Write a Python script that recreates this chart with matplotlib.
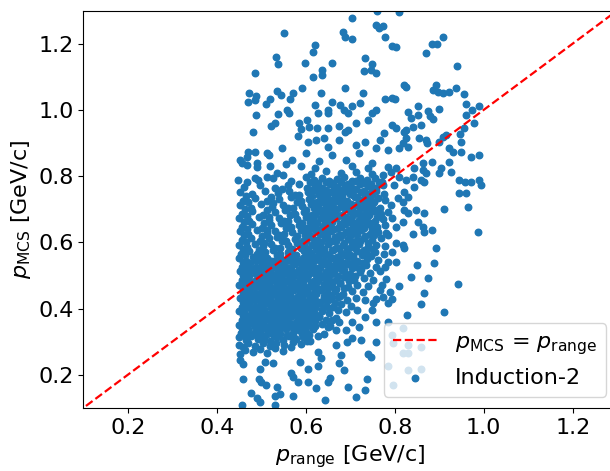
import numpy as np
import matplotlib
matplotlib.use("Agg")
import matplotlib.pyplot as plt

# (p_range, p_MCS) pairs in GeV/c, grouped by region of the distribution
dense_core = [
    # p_MCS ~ 0.27
    (0.452,0.262),(0.463,0.275),(0.481,0.268),(0.497,0.279),(0.512,0.266),(0.531,0.281),(0.548,0.271),(0.566,0.283),
    # ~0.29
    (0.449,0.291),(0.458,0.284),(0.471,0.296),(0.486,0.288),(0.503,0.295),(0.519,0.287),(0.534,0.297),(0.552,0.290),
    (0.571,0.298),(0.589,0.294),(0.604,0.301),
    # ~0.31
    (0.451,0.314),(0.465,0.304),(0.478,0.317),(0.492,0.308),(0.507,0.311),(0.520,0.302),(0.536,0.315),(0.549,0.306),
    (0.563,0.318),(0.578,0.309),(0.594,0.313),(0.610,0.303),(0.628,0.316),
    # ~0.33
    (0.455,0.327),(0.469,0.336),(0.484,0.325),(0.497,0.333),(0.512,0.338),(0.527,0.324),(0.541,0.331),(0.555,0.337),
    (0.571,0.326),(0.585,0.334),(0.600,0.329),(0.617,0.338),(0.641,0.323),
    # ~0.35
    (0.450,0.352),(0.462,0.345),(0.476,0.356),(0.490,0.348),(0.505,0.353),(0.519,0.343),(0.533,0.357),(0.547,0.349),
    (0.561,0.354),(0.576,0.344),(0.591,0.351),(0.606,0.358),(0.622,0.346),(0.637,0.353),(0.655,0.347),
    # ~0.37
    (0.456,0.366),(0.470,0.374),(0.483,0.365),(0.498,0.377),(0.513,0.369),(0.526,0.375),(0.540,0.364),(0.555,0.372),
    (0.569,0.378),(0.583,0.366),(0.598,0.373),(0.614,0.368),(0.629,0.376),(0.646,0.365),(0.668,0.371),
    # ~0.39
    (0.451,0.392),(0.464,0.385),(0.479,0.396),(0.493,0.388),(0.506,0.394),(0.521,0.384),(0.535,0.391),(0.549,0.397),
    (0.563,0.386),(0.577,0.393),(0.592,0.389),(0.607,0.395),(0.621,0.383),(0.637,0.392),(0.653,0.387),(0.672,0.396),
    (0.690,0.389),
    # ~0.41
    (0.457,0.406),(0.471,0.414),(0.485,0.404),(0.500,0.412),(0.514,0.417),(0.528,0.405),(0.542,0.411),(0.557,0.403),
    (0.571,0.415),(0.586,0.408),(0.600,0.413),(0.615,0.404),(0.630,0.416),(0.645,0.409),(0.661,0.405),(0.680,0.414),
    (0.701,0.408),
    # ~0.43
    (0.452,0.433),(0.466,0.425),(0.480,0.436),(0.494,0.428),(0.508,0.434),(0.523,0.424),(0.537,0.431),(0.551,0.437),
    (0.565,0.426),(0.580,0.432),(0.595,0.427),(0.609,0.435),(0.624,0.424),(0.640,0.433),(0.656,0.429),(0.673,0.436),
    (0.692,0.426),(0.714,0.431),
    # ~0.45
    (0.458,0.446),(0.472,0.454),(0.487,0.445),(0.501,0.452),(0.515,0.457),(0.530,0.444),(0.544,0.451),(0.558,0.446),
    (0.573,0.455),(0.587,0.448),(0.602,0.453),(0.617,0.444),(0.633,0.456),(0.648,0.447),(0.665,0.452),(0.683,0.445),
    (0.704,0.454),(0.728,0.449),
    # ~0.47
    (0.451,0.472),(0.465,0.465),(0.479,0.476),(0.494,0.468),(0.508,0.474),(0.522,0.464),(0.537,0.471),(0.551,0.477),
    (0.566,0.466),(0.580,0.473),(0.596,0.468),(0.611,0.475),(0.626,0.463),(0.642,0.472),(0.658,0.467),(0.676,0.476),
    (0.695,0.465),(0.716,0.471),(0.741,0.468),
    # ~0.49
    (0.456,0.486),(0.470,0.494),(0.485,0.484),(0.499,0.492),(0.513,0.497),(0.528,0.485),(0.543,0.491),(0.557,0.483),
    (0.572,0.495),(0.588,0.488),(0.603,0.493),(0.619,0.484),(0.635,0.496),(0.651,0.489),(0.668,0.485),(0.687,0.494),
    (0.708,0.487),(0.731,0.492),(0.752,0.486),
    # ~0.51
    (0.452,0.513),(0.466,0.505),(0.480,0.516),(0.495,0.508),(0.509,0.514),(0.524,0.504),(0.538,0.511),(0.553,0.517),
    (0.568,0.506),(0.583,0.513),(0.598,0.508),(0.614,0.515),(0.630,0.503),(0.646,0.512),(0.663,0.507),(0.681,0.516),
    (0.700,0.505),(0.722,0.511),(0.745,0.507),(0.766,0.514),
    # ~0.53
    (0.457,0.526),(0.471,0.534),(0.486,0.524),(0.501,0.532),(0.516,0.537),(0.531,0.525),(0.546,0.531),(0.561,0.523),
    (0.576,0.535),(0.592,0.528),(0.607,0.533),(0.623,0.524),(0.640,0.536),(0.657,0.529),(0.675,0.525),(0.694,0.534),
    (0.714,0.527),(0.736,0.532),(0.758,0.526),
    # ~0.55
    (0.451,0.553),(0.466,0.545),(0.481,0.556),(0.497,0.548),(0.513,0.554),(0.529,0.544),(0.545,0.551),(0.561,0.557),
    (0.577,0.546),(0.593,0.553),(0.609,0.548),(0.625,0.555),(0.641,0.543),(0.658,0.552),(0.676,0.547),(0.695,0.556),
    (0.716,0.545),(0.738,0.551),(0.762,0.548),
    # ~0.57
    (0.455,0.566),(0.472,0.574),(0.490,0.564),(0.508,0.572),(0.526,0.577),(0.543,0.565),(0.561,0.571),(0.578,0.563),
    (0.596,0.575),(0.612,0.568),(0.628,0.573),(0.645,0.564),(0.661,0.576),(0.679,0.569),(0.697,0.565),(0.716,0.574),
    (0.735,0.567),(0.755,0.572),(0.775,0.566),
    # ~0.59
    (0.450,0.593),(0.468,0.585),(0.486,0.596),(0.505,0.588),(0.523,0.594),(0.542,0.584),(0.560,0.591),(0.580,0.597),
    (0.598,0.586),(0.615,0.593),(0.632,0.588),(0.649,0.595),(0.667,0.583),(0.684,0.592),(0.702,0.587),(0.720,0.596),
    (0.739,0.585),(0.759,0.591),(0.779,0.588),
    # ~0.61
    (0.456,0.606),(0.476,0.614),(0.497,0.604),(0.517,0.612),(0.536,0.617),(0.556,0.605),(0.575,0.611),(0.593,0.603),
    (0.610,0.615),(0.626,0.608),(0.643,0.613),(0.660,0.604),(0.677,0.616),(0.694,0.609),(0.712,0.605),(0.731,0.614),
    (0.750,0.607),(0.770,0.612),
    # ~0.63
    (0.452,0.633),(0.471,0.625),(0.491,0.636),(0.512,0.628),(0.532,0.634),(0.551,0.624),(0.570,0.631),(0.589,0.637),
    (0.607,0.626),(0.623,0.633),(0.640,0.628),(0.657,0.635),(0.674,0.623),(0.690,0.632),(0.707,0.627),(0.725,0.636),
    (0.744,0.625),(0.763,0.631),(0.781,0.628),
    # ~0.65
    (0.457,0.646),(0.479,0.654),(0.501,0.644),(0.523,0.652),(0.545,0.657),(0.566,0.645),(0.586,0.651),(0.604,0.643),
    (0.621,0.655),(0.638,0.648),(0.655,0.653),(0.672,0.644),(0.689,0.656),(0.706,0.649),(0.723,0.645),(0.741,0.654),
    (0.760,0.647),(0.778,0.652),
    # ~0.67
    (0.451,0.673),(0.472,0.665),(0.495,0.676),(0.518,0.668),(0.540,0.674),(0.561,0.664),(0.581,0.671),(0.600,0.677),
    (0.618,0.666),(0.635,0.673),(0.651,0.668),(0.668,0.675),(0.685,0.663),(0.702,0.672),(0.719,0.667),(0.737,0.676),
    (0.755,0.665),(0.773,0.671),
    # ~0.69
    (0.456,0.686),(0.480,0.694),(0.505,0.684),(0.530,0.692),(0.553,0.697),(0.575,0.685),(0.596,0.691),(0.614,0.683),
    (0.631,0.695),(0.648,0.688),(0.665,0.693),(0.682,0.684),(0.699,0.696),(0.716,0.689),(0.733,0.685),(0.751,0.694),
    (0.769,0.687),(0.785,0.692),
    # ~0.71
    (0.452,0.713),(0.476,0.705),(0.500,0.716),(0.525,0.708),(0.549,0.714),(0.571,0.704),(0.592,0.711),(0.611,0.717),
    (0.628,0.706),(0.645,0.713),(0.662,0.708),(0.679,0.715),(0.696,0.703),(0.713,0.712),(0.730,0.707),(0.748,0.716),
    (0.766,0.705),
    # ~0.73
    (0.458,0.726),(0.486,0.734),(0.514,0.724),(0.541,0.732),(0.566,0.737),(0.589,0.725),(0.608,0.731),(0.625,0.723),
    (0.642,0.735),(0.659,0.728),(0.676,0.733),(0.693,0.724),(0.710,0.736),(0.727,0.729),(0.744,0.725),(0.762,0.734),
    (0.779,0.727),
    # ~0.75
    (0.453,0.753),(0.480,0.745),(0.509,0.756),(0.537,0.748),(0.563,0.754),(0.585,0.744),(0.605,0.751),(0.622,0.757),
    (0.639,0.746),(0.656,0.753),(0.673,0.748),(0.690,0.755),(0.707,0.743),(0.724,0.752),(0.741,0.747),(0.759,0.756),
    (0.776,0.745),
    # ~0.77
    (0.461,0.766),(0.497,0.774),(0.531,0.764),(0.560,0.772),(0.584,0.777),(0.603,0.765),(0.620,0.771),(0.637,0.763),
    (0.654,0.775),(0.671,0.768),(0.688,0.773),(0.705,0.764),(0.722,0.776),(0.739,0.769),(0.757,0.765),(0.774,0.774),
    # ~0.79
    (0.527,0.793),(0.566,0.785),(0.601,0.796),(0.619,0.788),(0.636,0.794),(0.653,0.784),(0.670,0.791),(0.687,0.797),
    (0.704,0.786),(0.721,0.793),(0.738,0.788),(0.755,0.795),(0.772,0.783),
    # ~0.81
    (0.612,0.806),(0.645,0.814),(0.680,0.808),(0.713,0.812),(0.748,0.805),
]

# additional events filling the most populated part of the band
dense_fill = [
    (0.458,0.321),(0.472,0.318),(0.486,0.323),(0.500,0.319),(0.514,0.322),(0.529,0.317),(0.543,0.324),(0.557,0.320),
    (0.571,0.316),(0.592,0.322),(0.608,0.319),
    (0.457,0.341),(0.471,0.338),(0.485,0.343),(0.499,0.339),(0.513,0.344),(0.527,0.337),(0.541,0.342),(0.555,0.340),
    (0.569,0.345),(0.584,0.338),(0.599,0.341),(0.614,0.343),
    (0.463,0.361),(0.477,0.358),(0.491,0.363),(0.505,0.359),(0.519,0.362),(0.533,0.357),(0.547,0.364),(0.562,0.360),
    (0.576,0.356),(0.591,0.362),(0.606,0.359),(0.621,0.363),
    (0.458,0.381),(0.472,0.378),(0.486,0.383),(0.500,0.379),(0.514,0.384),(0.528,0.377),(0.542,0.382),(0.556,0.380),
    (0.570,0.385),(0.585,0.378),(0.600,0.381),(0.615,0.383),(0.630,0.379),
    (0.464,0.401),(0.478,0.398),(0.492,0.403),(0.507,0.399),(0.521,0.402),(0.535,0.397),(0.549,0.404),(0.564,0.400),
    (0.578,0.396),(0.593,0.402),(0.607,0.399),(0.622,0.403),(0.637,0.398),(0.653,0.401),
    (0.459,0.421),(0.473,0.418),(0.487,0.423),(0.501,0.419),(0.515,0.424),(0.530,0.417),(0.544,0.422),(0.558,0.420),
    (0.572,0.425),(0.587,0.418),(0.602,0.421),(0.617,0.423),(0.632,0.419),(0.648,0.422),(0.665,0.418),
    (0.465,0.441),(0.479,0.438),(0.493,0.443),(0.507,0.439),(0.522,0.442),(0.536,0.437),(0.551,0.444),(0.565,0.440),
    (0.580,0.436),(0.594,0.442),(0.609,0.439),(0.624,0.443),(0.640,0.438),(0.657,0.441),(0.676,0.437),
    (0.458,0.461),(0.472,0.458),(0.486,0.463),(0.501,0.459),(0.515,0.464),(0.529,0.457),(0.544,0.462),(0.558,0.460),
    (0.573,0.465),(0.588,0.458),(0.603,0.461),(0.618,0.463),(0.634,0.459),(0.650,0.462),(0.667,0.458),(0.686,0.461),
    (0.463,0.481),(0.477,0.478),(0.492,0.483),(0.506,0.479),(0.520,0.482),(0.535,0.477),(0.550,0.484),(0.564,0.480),
    (0.579,0.476),(0.595,0.482),(0.611,0.479),(0.627,0.483),(0.643,0.478),(0.660,0.481),(0.678,0.477),(0.698,0.482),
    (0.459,0.501),(0.473,0.498),(0.488,0.503),(0.502,0.499),(0.516,0.504),(0.531,0.497),(0.546,0.502),(0.561,0.500),
    (0.576,0.505),(0.591,0.498),(0.606,0.501),(0.622,0.503),(0.638,0.499),(0.655,0.502),(0.672,0.498),(0.691,0.501),
    (0.711,0.497),
    (0.464,0.521),(0.478,0.518),(0.493,0.523),(0.508,0.519),(0.523,0.522),(0.538,0.517),(0.553,0.524),(0.568,0.520),
    (0.584,0.516),(0.600,0.522),(0.616,0.519),(0.632,0.523),(0.649,0.518),(0.666,0.521),(0.685,0.517),(0.704,0.522),
    (0.725,0.519),
    (0.459,0.541),(0.474,0.538),(0.489,0.543),(0.505,0.539),(0.521,0.544),(0.537,0.537),(0.553,0.542),(0.569,0.540),
    (0.585,0.545),(0.601,0.538),(0.617,0.541),(0.633,0.543),(0.650,0.539),(0.667,0.542),(0.686,0.538),(0.706,0.541),
    (0.727,0.537),
    (0.464,0.561),(0.499,0.558),(0.535,0.563),(0.570,0.559),(0.604,0.562),(0.620,0.557),(0.637,0.564),(0.653,0.560),
    (0.670,0.556),(0.688,0.562),(0.706,0.559),(0.726,0.563),(0.746,0.558),
    (0.459,0.581),(0.495,0.578),(0.532,0.583),(0.569,0.579),(0.589,0.582),(0.606,0.577),(0.623,0.584),(0.640,0.580),
    (0.658,0.576),(0.675,0.582),(0.693,0.579),(0.711,0.583),(0.730,0.578),(0.749,0.581),
    (0.466,0.601),(0.507,0.598),(0.546,0.603),(0.584,0.599),(0.601,0.604),(0.618,0.597),(0.635,0.602),(0.652,0.600),
    (0.669,0.605),(0.686,0.598),(0.703,0.601),(0.721,0.603),(0.740,0.599),
    (0.461,0.621),(0.501,0.618),(0.541,0.623),(0.580,0.619),(0.598,0.622),(0.615,0.617),(0.632,0.624),(0.648,0.620),
    (0.665,0.616),(0.682,0.622),(0.699,0.619),(0.716,0.623),(0.734,0.618),(0.753,0.621),
    (0.468,0.641),(0.512,0.638),(0.556,0.643),(0.595,0.639),(0.612,0.644),(0.629,0.637),(0.646,0.642),(0.663,0.640),
    (0.680,0.645),(0.697,0.638),(0.714,0.641),(0.732,0.643),(0.750,0.639),
    (0.462,0.661),(0.507,0.658),(0.551,0.663),(0.591,0.659),(0.609,0.662),(0.626,0.657),(0.643,0.664),(0.660,0.660),
    (0.677,0.656),(0.694,0.662),(0.711,0.659),(0.728,0.663),(0.746,0.658),
    (0.467,0.681),(0.517,0.678),(0.564,0.683),(0.605,0.679),(0.622,0.682),(0.639,0.677),(0.656,0.684),(0.673,0.680),
    (0.690,0.676),(0.707,0.682),(0.724,0.679),(0.742,0.683),(0.760,0.678),
    (0.463,0.701),(0.512,0.698),(0.560,0.703),(0.601,0.699),(0.619,0.704),(0.636,0.697),(0.653,0.702),(0.670,0.700),
    (0.687,0.705),(0.704,0.698),(0.721,0.701),(0.739,0.703),(0.757,0.699),
    (0.470,0.721),(0.527,0.718),(0.580,0.723),(0.617,0.719),(0.634,0.722),(0.651,0.717),(0.668,0.724),(0.685,0.720),
    (0.702,0.716),(0.719,0.722),(0.736,0.719),(0.753,0.723),
    (0.466,0.741),(0.523,0.738),(0.575,0.743),(0.614,0.739),(0.631,0.742),(0.648,0.737),(0.665,0.744),(0.682,0.740),
    (0.699,0.745),(0.716,0.738),(0.733,0.741),(0.750,0.743),
    (0.547,0.761),(0.612,0.758),(0.629,0.763),(0.646,0.759),(0.663,0.762),(0.680,0.757),(0.697,0.764),(0.714,0.760),
    (0.731,0.756),(0.748,0.762),
    (0.610,0.781),(0.628,0.778),(0.645,0.783),(0.662,0.779),(0.679,0.782),(0.696,0.777),(0.713,0.784),(0.730,0.780),
    (0.747,0.776),(0.764,0.782),
]

upper_tail = [
    (0.552,1.233),(0.705,1.276),(0.683,1.236),(0.689,1.221),(0.703,1.215),(0.622,1.197),(0.617,1.176),(0.534,1.161),
    (0.538,1.137),(0.599,1.143),(0.658,1.143),(0.637,1.121),(0.637,1.106),(0.617,1.100),(0.486,1.112),(0.734,1.158),
    (0.748,1.137),(0.730,1.118),(0.746,1.121),(0.757,1.112),(0.689,1.067),(0.592,1.067),(0.473,1.052),(0.489,1.043),
    (0.471,1.025),(0.486,1.031),(0.520,1.034),(0.511,1.019),(0.536,1.058),(0.545,1.046),(0.565,1.034),(0.572,1.052),
    (0.635,1.052),(0.728,1.052),(0.489,0.985),(0.538,0.989),(0.559,1.001),(0.563,0.992),(0.622,1.016),(0.628,0.992),
    (0.649,0.992),(0.651,1.001),(0.658,1.025),(0.676,1.016),(0.685,1.001),(0.696,0.992),(0.703,1.013),(0.721,1.022),
    (0.586,0.961),(0.604,0.970),(0.590,0.943),(0.608,0.949),(0.583,0.922),(0.626,0.946),(0.522,0.952),(0.531,0.961),
    (0.482,0.934),(0.651,0.946),(0.674,0.952),(0.689,0.934),(0.696,0.940),(0.712,0.961),(0.741,0.970),(0.748,0.992),
    (0.757,1.001),(0.606,0.904),(0.624,0.910),(0.640,0.916),(0.651,0.889),(0.674,0.910),(0.712,0.895),(0.734,0.904),
    (0.757,0.886),(0.470,0.874),(0.486,0.874),(0.468,0.859),(0.453,0.850),(0.457,0.840),(0.468,0.834),(0.491,0.840),
    (0.491,0.828),(0.513,0.871),(0.518,0.865),(0.547,0.886),(0.448,0.789),(0.468,0.783),(0.486,0.795),(0.493,0.789),
    (0.513,0.798),(0.536,0.810),(0.550,0.804),(0.570,0.850),(0.600,0.870),(0.630,0.845),(0.660,0.865),(0.690,0.850),
    (0.720,0.870),(0.750,0.840),(0.590,0.830),(0.705,0.830),(0.740,0.825),(0.620,0.825),(0.520,0.830),(0.555,0.838),
]

right_tail = [
    (0.761,1.297),(0.809,1.294),(0.757,1.257),(0.773,1.254),(0.764,1.248),(0.779,1.221),(0.795,1.194),(0.804,1.191),
    (0.870,1.173),(0.883,1.200),(0.894,1.200),(0.908,1.221),(0.940,1.131),(0.820,1.076),(0.825,1.070),(0.779,1.034),
    (0.793,1.037),(0.800,1.034),(0.892,1.076),(0.885,1.061),(0.897,1.055),(0.908,1.052),(0.921,1.055),(0.937,1.067),
    (0.955,1.049),(0.852,1.013),(0.874,0.998),(0.899,1.004),(0.879,0.980),(0.885,0.973),(0.960,1.019),(0.989,1.013),
    (0.973,1.001),(0.960,0.985),(0.978,0.961),(0.955,0.946),(0.946,0.928),(0.949,0.904),(0.908,0.919),(0.899,0.904),
    (0.921,0.886),(0.930,0.874),(0.949,0.874),(0.971,0.859),(0.989,0.865),(0.829,0.995),(0.836,0.976),(0.852,0.985),
    (0.858,0.955),(0.840,0.949),(0.825,0.940),(0.777,0.931),(0.795,0.955),(0.802,0.946),(0.820,0.934),(0.818,0.901),
    (0.831,0.889),(0.854,0.916),(0.870,0.910),(0.872,0.901),(0.883,0.843),(0.863,0.840),(0.843,0.825),(0.840,0.798),
    (0.865,0.783),(0.870,0.810),(0.899,0.810),(0.921,0.843),(0.926,0.813),(0.944,0.789),(0.958,0.783),(0.971,0.783),
    (0.944,0.750),(0.960,0.750),(0.989,0.789),(0.994,0.774),(0.964,0.708),(0.910,0.701),(0.987,0.632),(0.883,0.638),
    (0.863,0.647),(0.865,0.689),(0.847,0.698),(0.831,0.689),(0.825,0.789),(0.843,0.768),(0.858,0.789),(0.863,0.819),
    (0.768,0.910),(0.786,0.880),(0.809,0.886),(0.825,0.916),(0.915,0.925),(0.903,0.825),(0.802,0.825),(0.786,0.828),
    (0.791,0.813),(0.773,0.804),(0.809,0.798),(0.798,0.774),(0.820,0.753),(0.831,0.738),(0.807,0.735),(0.791,0.714),
    (0.818,0.723),(0.820,0.698),(0.852,0.662),(0.865,0.632),(0.840,0.626),(0.818,0.662),(0.795,0.674),(0.802,0.647),
    (0.786,0.623),(0.802,0.599),(0.818,0.593),(0.795,0.572),(0.786,0.541),(0.802,0.541),(0.779,0.526),(0.892,0.584),
    (0.888,0.538),(0.849,0.532),(0.820,0.584),
    (0.942,0.475),(0.910,0.390),(0.874,0.493),(0.865,0.448),(0.858,0.415),(0.827,0.381),(0.836,0.496),(0.809,0.469),
    (0.789,0.451),(0.793,0.430),(0.784,0.418),(0.773,0.436),(0.784,0.360),
    (0.818,0.342),(0.795,0.321),(0.797,0.297),(0.818,0.267),(0.831,0.267),(0.829,0.291),(0.858,0.285),(0.784,0.228),
    (0.829,0.215),(0.858,0.218),(0.797,0.170),
]

lower_tail = [
    (0.459,0.188),(0.498,0.218),(0.495,0.188),(0.500,0.179),(0.477,0.146),(0.491,0.131),(0.498,0.118),(0.531,0.137),
    (0.531,0.110),(0.536,0.164),(0.543,0.143),(0.511,0.170),(0.567,0.206),(0.572,0.194),(0.583,0.179),(0.572,0.137),
    (0.588,0.239),(0.606,0.218),(0.606,0.179),(0.624,0.161),(0.644,0.124),(0.655,0.191),(0.651,0.178),(0.674,0.236),
    (0.685,0.215),(0.680,0.260),(0.692,0.300),(0.703,0.312),(0.667,0.291),(0.628,0.270),(0.635,0.251),(0.714,0.134),
    (0.737,0.188),(0.746,0.254),(0.741,0.263),(0.757,0.300),(0.725,0.306),(0.703,0.360),(0.674,0.360),(0.658,0.366),
    (0.651,0.345),(0.669,0.336),(0.734,0.375),(0.757,0.360),(0.748,0.396),(0.752,0.418),(0.734,0.427),(0.527,0.236),
    (0.509,0.239),(0.453,0.246),(0.458,0.232),(0.457,0.109),(0.734,0.155),(0.696,0.164),(0.628,0.227),(0.768,0.455),
    (0.781,0.488),(0.771,0.470),(0.757,0.430),(0.715,0.395),(0.720,0.345),(0.690,0.335),
]

tick_vals = [0.2, 0.4, 0.6, 0.8, 1.0, 1.2]
diag = [0.0, 1.5]

pts = np.array(dense_core + dense_fill + upper_tail + right_tail + lower_tail)
p_range, p_mcs = pts[:, 0], pts[:, 1]

fig = plt.figure(figsize=(6.1, 4.71), dpi=100)
ax = fig.add_axes([0.1364, 0.1338, 0.8754, 0.8439])

ax.plot(diag, diag, linestyle='--', color='red', lw=1.6,
        label=r'$p_{\mathrm{MCS}}$ = $p_{\mathrm{range}}$', zorder=3)
ax.scatter(p_range, p_mcs, s=22, color='#1f77b4', label='Induction-2', zorder=2)

ax.set_xlim(0.1, 1.3)
ax.set_ylim(0.1, 1.3)
ax.set_xticks(tick_vals)
ax.set_yticks(tick_vals)
ax.tick_params(labelsize=16)
ax.set_xlabel(r'$p_{\mathrm{range}}$ [GeV/c]', fontsize=16)
ax.set_ylabel(r'$p_{\mathrm{MCS}}$ [GeV/c]', fontsize=16)
ax.legend(loc='lower right', fontsize=16)

fig.savefig('out.png', dpi=100)
